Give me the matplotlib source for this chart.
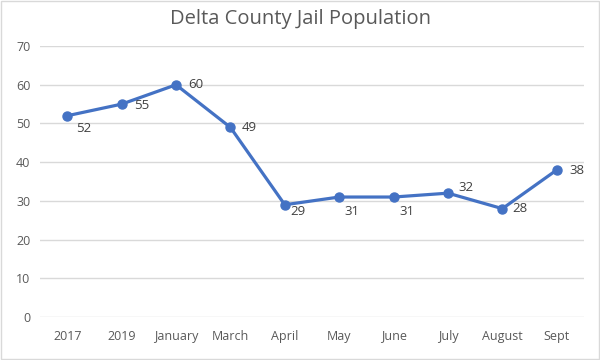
import matplotlib.pyplot as plt
from matplotlib.patches import Rectangle

# Data
months = ["2017", "2019", "January", "March", "April", "May", "June", "July", "August", "Sept"]
population = [52, 55, 60, 49, 29, 31, 31, 32, 28, 38]

# label offsets in pixels (dx, dy), mimicking Excel's placement
label_dx = [17, 20, 20, 19, 13, 13, 13, 18, 17, 20]
label_dy = [-13, -1, 0, 0, -7, -14, -14, 6, 0, -1]

plt.rcParams["font.family"] = ["Open Sans", "DejaVu Sans"]

fig = plt.figure(figsize=(6, 3.6), dpi=100)
ax = fig.add_axes([0.0667, 0.1194, 0.9066, 0.7526])

x = list(range(len(months)))
ax.plot(x, population, color="#4472C4", linewidth=2.3, marker="o",
        markersize=6.5, zorder=3)

for xi, yi, dx, dy in zip(x, population, label_dx, label_dy):
    ax.annotate(str(yi), (xi, yi), xytext=(dx, dy), textcoords="offset pixels",
                ha="center", va="center", fontsize=9.5, color="#404040")

ax.set_xlim(-0.5, len(months) - 0.5)
ax.set_ylim(0, 70)
ax.set_yticks(range(0, 71, 10))
ax.set_xticks(x)
ax.set_xticklabels(months)
ax.grid(axis="y", color="#d9d9d9", linewidth=1)
ax.set_axisbelow(True)
for s in ax.spines.values():
    s.set_visible(False)
ax.tick_params(length=0, labelsize=9, colors="#595959", pad=9)
ax.tick_params(axis="y", pad=7)

fig.suptitle("Delta County Jail Population", fontsize=14.5, color="#595959", y=0.975)

# light chart border
fig.patches.append(Rectangle((0.002, 0.003), 0.996, 0.994, transform=fig.transFigure,
                             fill=False, edgecolor="#d9d9d9", linewidth=1))

fig.savefig("out.png", dpi=100)
